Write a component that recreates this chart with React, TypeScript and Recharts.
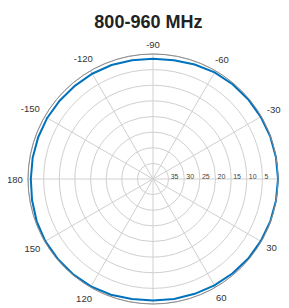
import { RadarChart, Radar, PolarGrid, PolarAngleAxis, PolarRadiusAxis } from "recharts";

// angle in degrees, clockwise from 3 o'clock (0..350)
const ANGLES = [
  0, 10, 20, 30, 40, 50, 60, 70, 80, 90, 100, 110, 120, 130, 140, 150, 160, 170,
  180, 190, 200, 210, 220, 230, 240, 250, 260, 270, 280, 290, 300, 310, 320, 330, 340, 350,
];
// attenuation (dB below peak)
const GAIN = [
  0.0, 0.05, 0.1, 0.2, 0.3, 0.5, 0.7, 0.9, 1.0, 1.1, 1.0, 0.6, 0.3, 0.2, 0.2, 0.2, 0.4, 0.7,
  0.9, 0.9, 0.9, 0.9, 1.0, 1.1, 1.1, 1.2, 1.4, 1.5, 1.4, 1.0, 0.6, 0.4, 0.3, 0.2, 0.1, 0.05,
];
const SPOKES = [0, 30, 60, 90, 120, 150, 180, 210, 240, 270, 300, 330];
const RADIUS_TICKS = [0, 5, 10, 15, 20, 25, 30, 35, 40];
// the 90 label sits below the visible area in the original, so it is left out
const HIDDEN_ANGLE_LABELS = [90];

const W = 281;
const H = 300;
const CX = 145;
const CY = 171;
const R = 125;
const FONT = "'Liberation Sans', Arial, Helvetica, sans-serif";

const data = ANGLES.map((a, i) => ({ angle: a, gain: GAIN[i] }));

function AngleTick(props: any) {
  const { payload } = props;
  const v = Number(payload.value);
  if (v % 30 !== 0 || HIDDEN_ANGLE_LABELS.includes(v)) return null;
  const label = String(v > 180 ? v - 360 : v);
  const theta = (-v * Math.PI) / 180;
  const c = Math.cos(theta);
  const s = Math.sin(theta);
  const halfW = label.length * 2.7;
  const d = R + 5 + halfW * Math.abs(c) + 4.5 * Math.abs(s);
  return (
    <text
      x={CX + d * c}
      y={CY - d * s}
      textAnchor="middle"
      dominantBaseline="central"
      fontSize={9.5}
      fontFamily={FONT}
      fill="#333"
    >
      {label}
    </text>
  );
}

function RadiusTick(props: any) {
  const { x, y, payload } = props;
  const v = Number(payload.value);
  if (v <= 0 || v >= 40) return null;
  return (
    <text x={x + 2} y={y - 0.5} fontSize={7} fontFamily={FONT} fill="#444">
      {v}
    </text>
  );
}

export default function App() {
  return (
    <div style={{ position: "relative", width: W, height: H }}>
      <RadarChart
        width={W}
        height={H}
        data={data}
        cx={CX}
        cy={CY}
        outerRadius={R}
        startAngle={0}
        endAngle={-360}
        margin={{ top: 0, right: 0, bottom: 0, left: 0 }}
      >
        <PolarGrid gridType="circle" polarAngles={SPOKES} stroke="#d0d0d0" strokeWidth={1} />
        <PolarAngleAxis
          dataKey="angle"
          tick={<AngleTick />}
          tickLine={false}
          axisLineType="circle"
          axisLine={{ stroke: "#8a8a8a", strokeWidth: 1 }}
        />
        <PolarRadiusAxis
          type="number"
          angle={0}
          domain={[0, 40]}
          ticks={RADIUS_TICKS as any}
          tickCount={9}
          reversed
          axisLine={false}
          tickLine={false}
          tick={<RadiusTick />}
        />
        <Radar
          dataKey="gain"
          stroke="#0072bd"
          strokeWidth={2}
          fill="none"
          fillOpacity={0}
          dot={false}
          isAnimationActive={false}
        />
      </RadarChart>
      <svg
        width={W}
        height={40}
        style={{ position: "absolute", left: 0, top: 0, pointerEvents: "none" }}
      >
        <text
          x={140.4}
          y={20.3}
          textAnchor="middle"
          fontSize={18}
          fontWeight="bold"
          fontFamily={FONT}
          fill="#222"
        >
          800-960 MHz
        </text>
      </svg>
    </div>
  );
}
